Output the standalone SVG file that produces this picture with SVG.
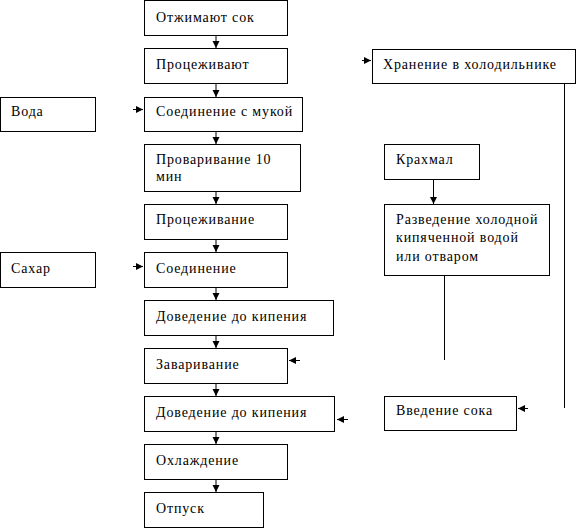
<svg xmlns="http://www.w3.org/2000/svg" width="577" height="529" viewBox="0 0 577 529">
<defs>
<marker id="ah" viewBox="0 0 7 8" refX="7" refY="4" markerWidth="7" markerHeight="8" markerUnits="userSpaceOnUse" orient="auto">
<path d="M0,0.5 L7,4 L0,7.5 Z" fill="#000"/>
</marker>
</defs>
<style>
rect{fill:#fff;stroke:#000;stroke-width:1}
text{font-family:"Liberation Serif","Times New Roman",serif;font-size:14px;letter-spacing:0.85px;fill:#000}
.c line{stroke:#000;stroke-width:1}
.a{marker-end:url(#ah)}
</style>
<rect x="0" y="0" width="577" height="529" style="stroke:none"/>
<g id="n1"><rect x="144.5" y="0.5" width="143" height="35"/><text x="156" y="22">Отжимают сок</text></g>
<g id="n2"><rect x="144.5" y="48.5" width="143" height="35"/><text x="156" y="69">Процеживают</text></g>
<g id="n3"><rect x="144.5" y="97.5" width="158" height="34"/><text x="156" y="116">Соединение с мукой</text></g>
<g id="n4"><rect x="144.5" y="144.5" width="156" height="47"/><text x="156" y="164">Проваривание 10</text><text x="156" y="181">мин</text></g>
<g id="n5"><rect x="144.5" y="204.5" width="143" height="35"/><text x="156" y="224">Процеживание</text></g>
<g id="n6"><rect x="144.5" y="252.5" width="143" height="35"/><text x="156" y="273">Соединение</text></g>
<g id="n7"><rect x="144.5" y="300.5" width="189" height="35"/><text x="156" y="321">Доведение до кипения</text></g>
<g id="n8"><rect x="144.5" y="348.5" width="143" height="35"/><text x="156" y="369">Заваривание</text></g>
<g id="n9"><rect x="144.5" y="396.5" width="190" height="35"/><text x="156" y="417">Доведение до кипения</text></g>
<g id="n10"><rect x="144.5" y="444.5" width="143" height="35"/><text x="156" y="465">Охлаждение</text></g>
<g id="n11"><rect x="144.5" y="492.5" width="119" height="35"/><text x="156" y="513">Отпуск</text></g>
<g id="voda"><rect x="0.5" y="97.5" width="95" height="34"/><text x="11" y="116">Вода</text></g>
<g id="sahar"><rect x="0.5" y="252.5" width="95" height="35"/><text x="11" y="273">Сахар</text></g>
<g id="hranenie"><rect x="372.5" y="49.5" width="203" height="34"/><text x="383" y="69">Хранение в холодильнике</text></g>
<g id="krahmal"><rect x="384.5" y="144.5" width="95" height="35"/><text x="396" y="164">Крахмал</text></g>
<g id="razvedenie"><rect x="384.5" y="204.5" width="165" height="71"/><text x="396" y="224">Разведение холодной</text><text x="396" y="242">кипяченной водой</text><text x="396" y="261">или отваром</text></g>
<g id="vvedenie"><rect x="384.5" y="396.5" width="132" height="34"/><text x="396" y="415">Введение сока</text></g>
<g class="c" id="connectors">
<line class="a" x1="216" y1="36" x2="216" y2="48"/>
<line class="a" x1="216" y1="84" x2="216" y2="97"/>
<line class="a" x1="216" y1="132" x2="216" y2="144"/>
<line class="a" x1="216" y1="192" x2="216" y2="204"/>
<line class="a" x1="216" y1="240" x2="216" y2="252"/>
<line class="a" x1="216" y1="288" x2="216" y2="300"/>
<line class="a" x1="216" y1="336" x2="216" y2="348"/>
<line class="a" x1="216" y1="384" x2="216" y2="396"/>
<line class="a" x1="216" y1="432" x2="216" y2="444"/>
<line class="a" x1="216" y1="480" x2="216" y2="492"/>
<line class="a" x1="133" y1="109.5" x2="143" y2="109.5"/>
<line class="a" x1="133" y1="266.5" x2="143" y2="266.5"/>
<line class="a" x1="362" y1="60.5" x2="371" y2="60.5"/>
<line class="a" x1="433.5" y1="180" x2="433.5" y2="204"/>
<line x1="444.5" y1="276" x2="444.5" y2="360"/>
<line x1="564.5" y1="84" x2="564.5" y2="408"/>
<line class="a" x1="300" y1="360.5" x2="289" y2="360.5"/>
<line class="a" x1="348" y1="419.5" x2="337" y2="419.5"/>
<line class="a" x1="528" y1="408.5" x2="518" y2="408.5"/>
</g>
</svg>
